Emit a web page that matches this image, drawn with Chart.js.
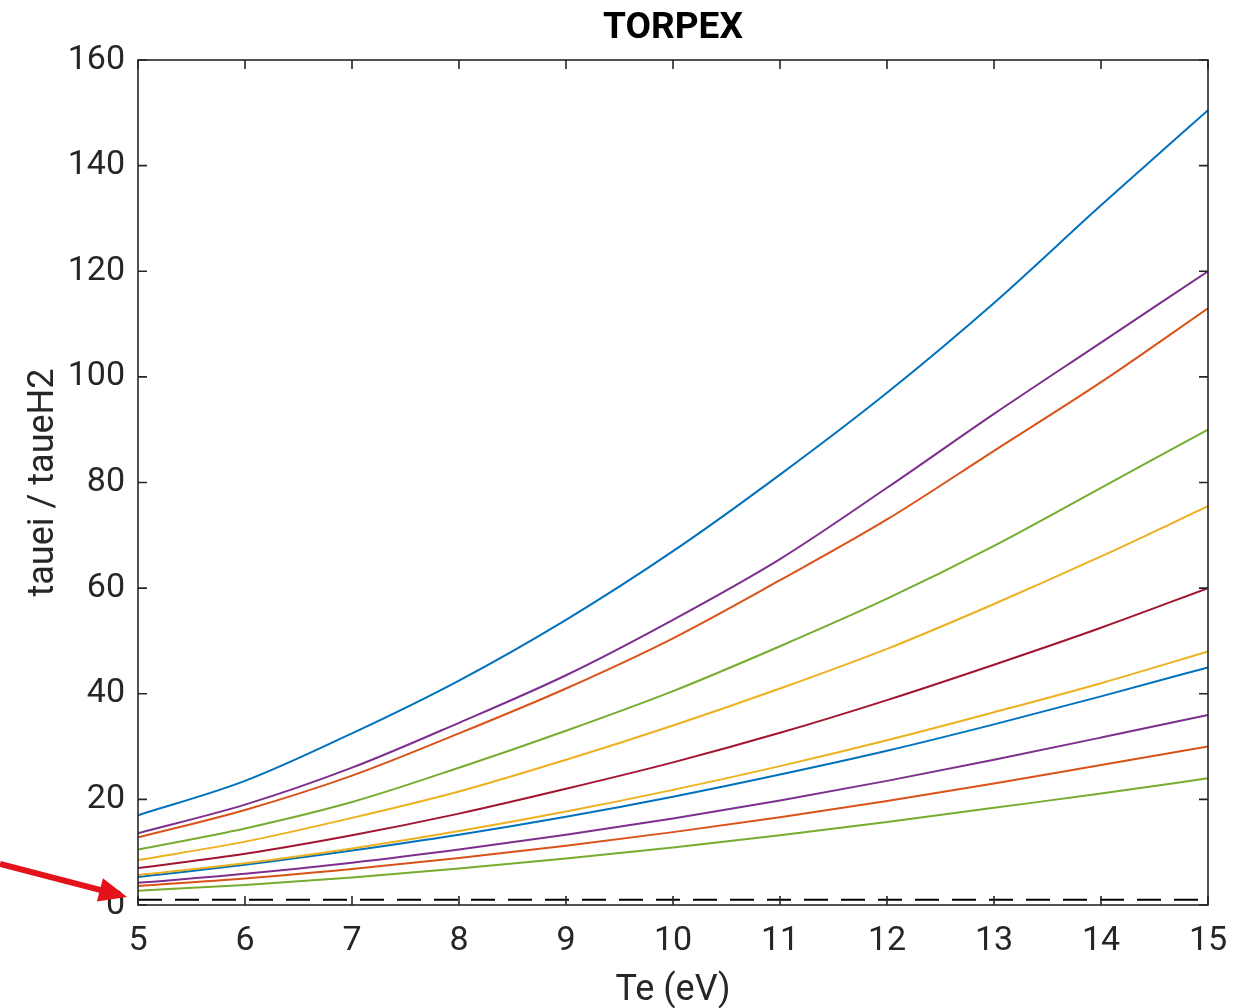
<!DOCTYPE html>
<html>
<head>
<meta charset="utf-8">
<script src="https://cdn.jsdelivr.net/npm/chart.js@4.4.0/dist/chart.umd.min.js"></script>
<style>
  html, body { margin: 0; padding: 0; background: #fff; }
  #wrap { width: 1235px; height: 1008px; }
</style>
</head>
<body>
<div id="wrap"><canvas id="c" width="1235" height="1008"></canvas></div>
<script>
// ---- Data ----
const te = [5, 6, 7, 8, 9, 10, 11, 12, 13, 14, 15];
const yTicks = [0, 20, 40, 60, 80, 100, 120, 140, 160];
const xTicks = [5, 6, 7, 8, 9, 10, 11, 12, 13, 14, 15];

const s1 = [17.0, 23.5, 32.5, 42.5, 54.0, 67.0, 81.5, 97.0, 114.0, 132.5, 150.5];
const s2 = [13.6, 19.0, 26.0, 34.5, 43.5, 54.0, 65.5, 79.0, 93.0, 106.5, 120.0];
const s3 = [12.8, 18.0, 24.5, 32.5, 41.0, 50.5, 61.5, 73.0, 86.0, 99.0, 113.0];
const s4 = [10.5, 14.5, 19.5, 26.0, 33.0, 40.5, 49.0, 58.0, 68.0, 79.0, 90.0];
const s5 = [8.5, 12.0, 16.5, 21.5, 27.5, 34.0, 41.0, 48.5, 57.0, 66.0, 75.5];
const s6 = [7.0, 9.7, 13.2, 17.3, 22.0, 27.0, 32.6, 38.8, 45.5, 52.5, 60.0];
const s7 = [5.7, 7.9, 10.7, 14.0, 17.7, 21.8, 26.3, 31.2, 36.5, 42.0, 48.0];
const s8 = [5.3, 7.6, 10.3, 13.3, 16.7, 20.5, 24.7, 29.2, 34.2, 39.5, 45.0];
const s9 = [4.2, 5.9, 8.0, 10.5, 13.3, 16.4, 19.8, 23.5, 27.5, 31.7, 36.0];
const s10 = [3.6, 5.0, 6.8, 8.9, 11.2, 13.8, 16.6, 19.7, 23.0, 26.5, 30.0];
const s11 = [2.7, 3.8, 5.2, 6.9, 8.8, 10.9, 13.2, 15.7, 18.4, 21.1, 24.0];
const refLine = [1, 1, 1, 1, 1, 1, 1, 1, 1, 1, 1];

const seriesList = [s1, s2, s3, s4, s5, s6, s7, s8, s9, s10, s11];
const colors = ['#0072BD', '#7E2F8E', '#D95319', '#77AC30', '#EDB120', '#A2142F',
                '#EDB120', '#0072BD', '#7E2F8E', '#D95319', '#77AC30'];

const AX = '#262626';
const FONT = 'Roboto, "Liberation Sans", sans-serif';

const toPts = arr => arr.map((v, i) => ({ x: te[i], y: v }));

const datasets = seriesList.map((arr, i) => ({
  data: toPts(arr),
  borderColor: colors[i],
  borderWidth: 2,
  pointRadius: 0,
  fill: false,
  cubicInterpolationMode: 'monotone'
}));
datasets.push({
  data: toPts(refLine),
  borderColor: '#000000',
  borderWidth: 2,
  borderDash: [24, 13],
  pointRadius: 0,
  fill: false
});

const boxPlugin = {
  id: 'boxPlugin',
  afterDatasetsDraw(chart) {
    const { ctx, chartArea: a, scales } = chart;
    ctx.save();
    ctx.strokeStyle = AX;
    ctx.lineWidth = 1.6;
    ctx.strokeRect(a.left, a.top, a.right - a.left, a.bottom - a.top);
    const tl = 9;
    ctx.beginPath();
    xTicks.forEach(v => {
      const px = scales.x.getPixelForValue(v);
      ctx.moveTo(px, a.bottom); ctx.lineTo(px, a.bottom - tl);
      ctx.moveTo(px, a.top); ctx.lineTo(px, a.top + tl);
    });
    yTicks.forEach(v => {
      const py = scales.y.getPixelForValue(v);
      ctx.moveTo(a.left, py); ctx.lineTo(a.left + tl, py);
      ctx.moveTo(a.right, py); ctx.lineTo(a.right - tl, py);
    });
    ctx.stroke();
    // title centred over plot area
    ctx.fillStyle = '#000';
    ctx.font = 'bold 37px ' + FONT;
    ctx.textAlign = 'center';
    ctx.textBaseline = 'middle';
    ctx.fillText('TORPEX', (a.left + a.right) / 2, 29);
    ctx.restore();
  },
  afterDraw(chart) {
    // red annotation arrow
    const { ctx } = chart;
    ctx.save();
    ctx.strokeStyle = '#E3121B';
    ctx.fillStyle = '#E3121B';
    ctx.lineWidth = 6;
    const x0 = 0, y0 = 864, x1 = 127, y1 = 897;
    const ang = Math.atan2(y1 - y0, x1 - x0);
    const hl = 28, hw = 12;
    const bx = x1 - hl * Math.cos(ang), by = y1 - hl * Math.sin(ang);
    ctx.beginPath();
    ctx.moveTo(x0, y0); ctx.lineTo(bx + 2 * Math.cos(ang), by + 2 * Math.sin(ang));
    ctx.stroke();
    ctx.beginPath();
    ctx.moveTo(x1, y1);
    ctx.lineTo(bx + hw * Math.sin(ang), by - hw * Math.cos(ang));
    ctx.lineTo(bx - hw * Math.sin(ang), by + hw * Math.cos(ang));
    ctx.closePath();
    ctx.fill();
    ctx.restore();
  }
};

new Chart(document.getElementById('c'), {
  type: 'line',
  data: { datasets },
  options: {
    responsive: false,
    animation: false,
    layout: { padding: { top: 60, right: 27, left: 0, bottom: 0 } },
    plugins: { legend: { display: false }, tooltip: { enabled: false }, title: { display: false } },
    scales: {
      x: {
        type: 'linear',
        min: 5, max: 15,
        afterFit(s) { s.height = 103; s.paddingLeft = 0; s.paddingRight = 0; },
        afterBuildTicks(s) { s.ticks = xTicks.map(v => ({ value: v })); },
        grid: { display: false, drawTicks: false },
        border: { display: false },
        ticks: { color: AX, padding: 16, font: { family: FONT, size: 34 }, maxRotation: 0 },
        title: { display: true, text: 'Te (eV)', color: AX, font: { family: FONT, size: 36 }, padding: { top: 0, bottom: -5 } }
      },
      y: {
        type: 'linear',
        min: 0, max: 160,
        afterFit(s) { s.width = 138; s.paddingTop = 0; s.paddingBottom = 0; },
        afterBuildTicks(s) { s.ticks = yTicks.map(v => ({ value: v })); },
        grid: { display: false, drawTicks: false },
        border: { display: false },
        ticks: { color: AX, padding: 13, font: { family: FONT, size: 34 } },
        title: { display: true, text: 'tauei / taueH2', color: AX, font: { family: FONT, size: 36 }, padding: { top: 22, bottom: 0 } }
      }
    }
  },
  plugins: [boxPlugin]
});
</script>
</body>
</html>
